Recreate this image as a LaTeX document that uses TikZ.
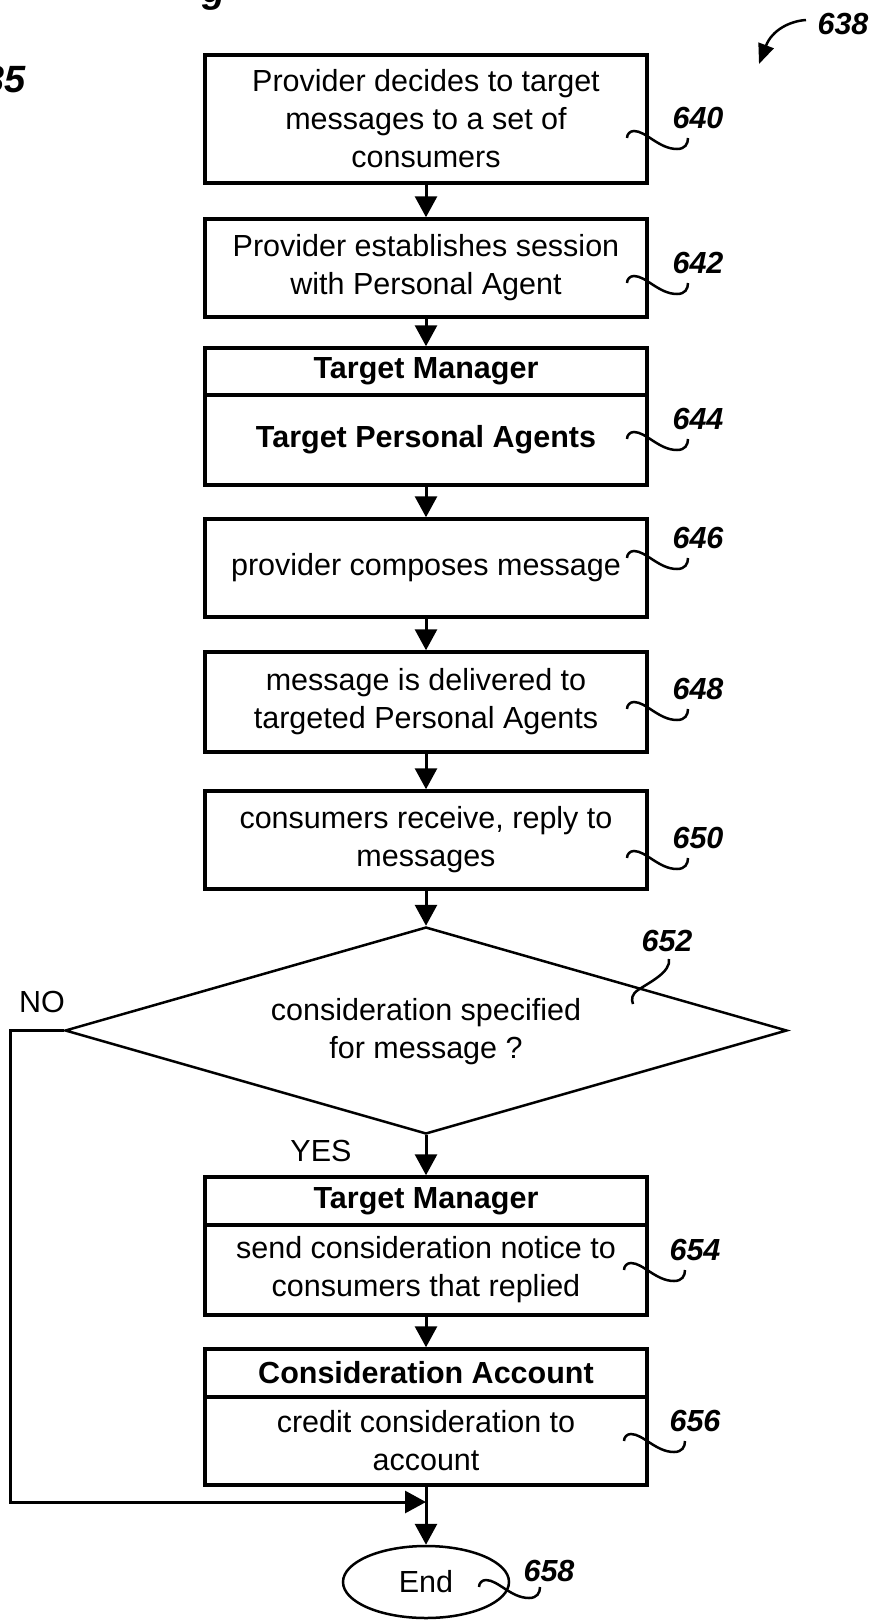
\documentclass[tikz,border=0pt]{standalone}
\usepackage{fontspec}
\setmainfont{Liberation Sans}
\usetikzlibrary{arrows.meta,shapes.geometric,calc}
\newcommand{\bodyfont}{\fontsize{30.5}{38}\selectfont}
\newcommand{\labfont}{\fontsize{30.5}{36}\selectfont\bfseries\itshape}
\newcommand{\figfont}{\fontsize{38}{40}\selectfont\bfseries\itshape}
\begin{document}
\begin{tikzpicture}[x=1pt,y=-1pt,
  box/.style={draw, line width=3.5pt, minimum width=442pt, inner sep=0pt, align=center, font=\bodyfont},
  hbox/.style={box, font=\bodyfont\bfseries},
  arr/.style={line width=3pt, -{Triangle[length=21pt,width=22pt]}},
  lbl/.style={inner sep=0pt, font=\labfont},
  plain/.style={inner sep=0pt, font=\bodyfont},
  lead/.style={line width=2.5pt},
  squig/.pic={\draw[lead] (0,0) .. controls (0,-4) and (3,-7) .. (7,-7) .. controls (19,-7) and (32,11) .. (50,11) .. controls (58,11) and (61,6) .. (61,0);},
  squigb/.pic={\draw[lead] (2,18) .. controls (4,31) and (-17,41) .. (-29,49) .. controls (-35,53) and (-36,58) .. (-34,63);}
]
\path[use as bounding box, fill=white] (0,0) rectangle (868,1620);

% partial title texts
\node[anchor=east, inner sep=0pt, font=\figfont] (fig) at (26,79) {35};
\node[anchor=base, inner sep=0pt, font=\figfont] (figg) at (214,2) {g};

% boxes
\node[box, minimum height=128pt] (b640) at (426,119) {Provider decides to target\\messages to a set of\\consumers};
\node[box, minimum height=98pt] (b642) at (426,268) {Provider establishes session\\with Personal Agent};
\node[hbox, minimum height=47pt] (b644h) at (426,371.5) {Target Manager};
\node[hbox, minimum height=90pt] (b644) at (426,440) {Target Personal Agents};
\node[box, minimum height=98pt] (b646) at (426,568) {provider composes message};
\node[box, minimum height=100pt] (b648) at (426,702) {message is delivered to\\targeted Personal Agents};
\node[box, minimum height=98pt] (b650) at (426,840) {consumers receive, reply to\\messages};
\node[draw, diamond, line width=2.5pt, minimum width=722pt, minimum height=207pt, inner sep=0pt] (dec) at (426,1030.5) {};
\node[plain, align=center] (dect) at (426,1032) {consideration specified\\for message ?};
\node[hbox, minimum height=48pt] (b654h) at (426,1201) {Target Manager};
\node[box, minimum height=90pt] (b654) at (426,1270) {send consideration notice to\\consumers that replied};
\node[hbox, minimum height=48pt] (b656h) at (426,1373) {Consideration Account};
\node[box, minimum height=88pt] (b656) at (426,1441) {credit consideration to\\account};
\node[draw, ellipse, line width=2.5pt, minimum width=166pt, minimum height=72pt, inner sep=0pt, font=\bodyfont] (end) at (426,1582) {End};

\node[plain] (no) at (42,1002) {NO};
\node[plain] (yes) at (321,1151) {YES};

% connectors
\draw[arr] (b640) -- (b642);
\draw[arr] (b642) -- (b644h);
\draw[arr] (b644) -- (b646);
\draw[arr] (b646) -- (b648);
\draw[arr] (b648) -- (b650);
\draw[arr] (b650) -- (dec);
\draw[arr] (dec) -- (b654h);
\draw[arr] (b654) -- (b656h);
\draw[arr] (b656) -- (end);
\coordinate (m) at (426,1502);
\draw[arr] (dec.west) -- ++(-53,0) |- (m);

% reference labels
\node[lbl] (l638) at (843,24) {638};
\coordinate (s638) at (806,20);
\coordinate (t638) at (759,64);
\draw[line width=2.5pt, -{Triangle[length=20pt,width=16pt]}] (s638) .. controls (790,21) and (772,30) .. (t638);

\node[lbl] (l640) at (698,118) {640};
\node[lbl] (l642) at (698,263) {642};
\node[lbl] (l644) at (698,419) {644};
\node[lbl] (l646) at (698,538) {646};
\node[lbl] (l648) at (698,689) {648};
\node[lbl] (l650) at (698,838) {650};
\node[lbl] (l652) at (667,941) {652};
\node[lbl] (l654) at (695,1250) {654};
\node[lbl] (l656) at (695,1421) {656};
\node[lbl] (l658) at (549,1571) {658};

\pic at ($(l640)+(-71,20)$) {squig};
\pic at ($(l642)+(-71,20)$) {squig};
\pic at ($(l644)+(-71,20)$) {squig};
\pic at ($(l646)+(-71,20)$) {squig};
\pic at ($(l648)+(-71,20)$) {squig};
\pic at ($(l650)+(-71,20)$) {squig};
\pic at (l652) {squigb};
\pic at ($(l654)+(-71,20)$) {squig};
\pic at ($(l656)+(-71,20)$) {squig};
\pic at ($(l658)+(-70,16)$) {squig};
\end{tikzpicture}
\end{document}
